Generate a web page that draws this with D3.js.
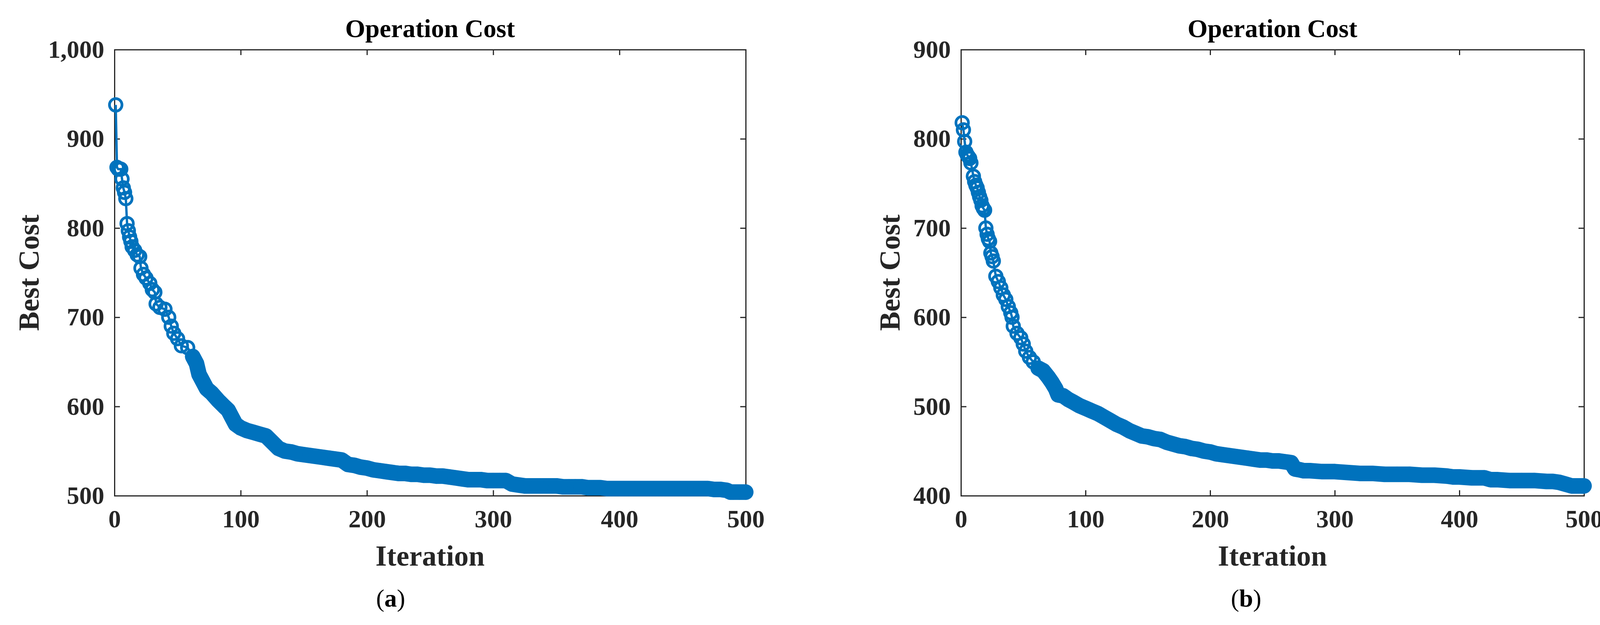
<!DOCTYPE html>
<html><head><meta charset="utf-8">
<script src="https://cdn.jsdelivr.net/npm/d3@7"></script>
<style>body{margin:0;background:#fff}</style></head>
<body><svg id="c" width="4136" height="1600"></svg>
<script>
const iterA=[1,2,3,4,5,6,7,8,9,10,11,12,13,14,16,18,20,21,23,25,28,30,32,33,36,40,43,45,47,50,53,58,62,65,67,70,73,77,82,87,90,93,96,100,105,110,115,120,125,130,135,140,145,150,155,160,165,170,175,180,185,190,195,200,205,210,215,220,225,230,235,240,245,250,255,260,265,270,275,280,285,290,295,300,305,310,315,320,325,330,335,340,345,350,355,360,365,370,375,380,385,390,395,400,405,410,415,420,425,430,435,440,445,450,455,460,465,470,475,480,485,488,490,495,500];
const costA=[938,868,866,866,866,855,845,840,833,805,797,790,785,779,775,770,768,755,748,744,738,731,728,715,711,709,700,690,682,676,668,666,656,648,636,628,620,615,607,600,596,588,580,576,573,571,569,567,560,553,550,549,547,546,545,544,543,542,541,540,535,534,532,531,529,528,527,526,525,525,524,524,523,523,522,522,521,520,519,518,518,518,517,517,517,517,513,512,511,511,511,511,511,511,510,510,510,510,509,509,509,508,508,508,508,508,508,508,508,508,508,508,508,508,508,508,508,508,507,507,506,504,504,504,504];
const iterB=[1,2,3,4,5,6,7,8,10,11,12,13,14,15,16,17,18,19,20,21,22,23,24,25,26,28,30,32,34,36,38,40,41,42,45,48,50,52,55,58,62,66,70,73,76,78,82,86,90,95,100,105,110,115,120,125,130,135,140,145,150,155,160,165,170,175,180,185,190,195,200,205,210,215,220,225,230,235,240,245,250,255,260,265,268,272,275,280,290,300,310,320,330,340,350,360,370,380,390,395,400,410,420,425,430,440,450,460,470,475,480,485,490,495,500];
const costB=[818,810,797,785,782,780,778,773,758,752,748,745,740,735,731,725,722,720,700,693,688,685,672,668,663,646,640,633,625,620,612,605,600,590,582,577,570,562,555,550,543,540,533,527,520,513,512,508,505,501,498,495,492,488,484,480,477,473,470,467,466,464,463,460,458,456,455,453,452,450,449,447,446,445,444,443,442,441,440,440,439,439,438,437,430,429,428,428,427,427,426,425,425,424,424,424,423,423,422,421,421,420,420,418,418,417,417,417,416,416,415,413,411,411,411];
const yTicksA=[500,600,700,800,900,1000];
const yTicksB=[400,500,600,700,800,900];
const xTicks=[0,100,200,300,400,500];
const panels=[
 {iter:iterA,cost:costA,yd:[500,1000],yt:yTicksA,l:293,r:1909,lab:"a",labX:1000,ylabX:73},
 {iter:iterB,cost:costB,yd:[400,900],yt:yTicksB,l:2460,r:4055,lab:"b",labX:3190,ylabX:2277}
];
const pTop=127,pBot=1269,blue="#0072BD",ink="#262626";
const svg=d3.select("#c");
const F="'Liberation Serif','Times New Roman',serif";
panels.forEach(p=>{
  const x=d3.scaleLinear().domain([0,500]).range([p.l,p.r]);
  const y=d3.scaleLinear().domain(p.yd).range([pBot,pTop]);
  const g=svg.append("g");
  g.append("g").attr("transform",`translate(0,${pBot})`).call(d3.axisBottom(x).tickValues(xTicks).tickSize(0).tickPadding(36));
  g.append("g").attr("transform",`translate(0,${pTop})`).call(d3.axisTop(x).tickValues(xTicks).tickSize(-14).tickFormat(""));
  g.append("g").attr("transform",`translate(${p.l},0)`).call(d3.axisLeft(y).tickValues(p.yt).tickSize(0).tickPadding(26));
  g.append("g").attr("transform",`translate(${p.r},0)`).call(d3.axisRight(y).tickValues(p.yt).tickSize(-14).tickFormat(""));
  g.append("g").attr("transform",`translate(0,${pBot})`).call(d3.axisBottom(x).tickValues(xTicks).tickSize(-14).tickFormat(""));
  g.append("g").attr("transform",`translate(${p.l},0)`).call(d3.axisLeft(y).tickValues(p.yt).tickSize(-14).tickFormat(""));
  g.selectAll(".domain").attr("stroke",ink).attr("stroke-width",3);
  g.selectAll(".tick line").attr("stroke",ink).attr("stroke-width",3);
  g.selectAll(".tick text").attr("font-family",F).attr("font-weight","bold").attr("font-size",64).attr("fill",ink);
  const n=Math.min(p.iter.length,p.cost.length);
  const pts=p.iter.slice(0,n).map((d,i)=>[d,p.cost[i]]);
  const line=d3.line().x(d=>x(d[0])).y(d=>y(d[1]));
  g.append("path").attr("d",line(pts.filter(d=>d[0]>=60))).attr("fill","none").attr("stroke",blue).attr("stroke-width",40).attr("stroke-linejoin","round").attr("stroke-linecap","round");
  g.append("path").attr("d",line(pts)).attr("fill","none").attr("stroke",blue).attr("stroke-width",6);
  g.selectAll("circle").data(pts).join("circle").attr("cx",d=>x(d[0])).attr("cy",d=>y(d[1])).attr("r",16).attr("fill","none").attr("stroke",blue).attr("stroke-width",7);
  g.append("text").attr("x",(p.l+p.r)/2).attr("y",95).attr("text-anchor","middle").attr("font-family",F).attr("font-weight","bold").attr("font-size",66).attr("fill","#000").text("Operation Cost");
  g.append("text").attr("x",(p.l+p.r)/2).attr("y",1448).attr("text-anchor","middle").attr("font-family",F).attr("font-weight","bold").attr("font-size",74).attr("fill",ink).text("Iteration");
  g.append("text").attr("transform",`translate(${p.ylabX+26},${(pTop+pBot)/2}) rotate(-90)`).attr("text-anchor","middle").attr("font-family",F).attr("font-weight","bold").attr("font-size",74).attr("fill",ink).text("Best Cost");
  const t=g.append("text").attr("x",p.labX).attr("y",1553).attr("text-anchor","middle").attr("font-family",F).attr("font-size",64).attr("fill","#000");
  t.append("tspan").text("(");t.append("tspan").attr("font-weight","bold").text(p.lab);t.append("tspan").text(")");
});
</script></body></html>
